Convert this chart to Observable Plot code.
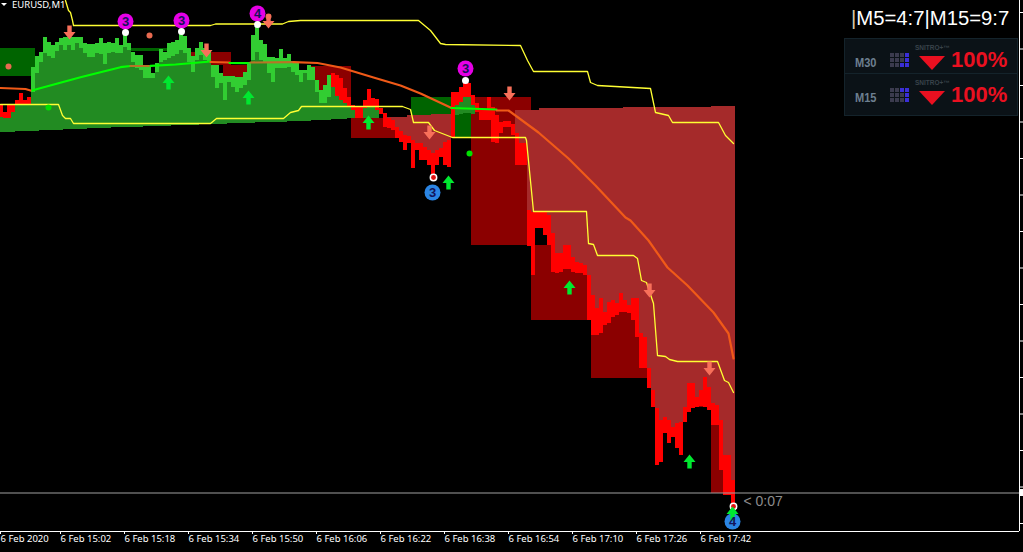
<!DOCTYPE html>
<html><head><meta charset="utf-8">
<style>
html,body{margin:0;padding:0;background:#000;width:1023px;height:552px;overflow:hidden}
#wrap{position:relative;width:1023px;height:552px}
#wrap svg{display:block;position:absolute;left:0;top:0}
.abs{position:absolute}
#sym{left:12px;top:-1px;color:#fff;font:9.5px "Noto Sans",sans-serif;line-height:11px}
#tri{left:1px;top:3px;width:0;height:0;border-left:3px solid transparent;border-right:3px solid transparent;border-top:3px solid #fff}
#head{left:851px;top:7px;width:170px;color:#fff;font:20.3px "Liberation Sans",Arial,sans-serif;white-space:nowrap}
#head b{font-weight:normal;color:#d8c8a8}
#panel{left:844px;top:38px;width:174px;height:78px;background:#0b1217;border:1px solid #14232b;box-sizing:border-box}
.row{position:absolute;left:0;width:172px;height:34px}
.row.one{top:0;border-bottom:1px solid #14232b}
.row.two{top:35px}
.tf{position:absolute;left:10px;top:16px;color:#6d7f90;font:bold 13px "Liberation Sans",sans-serif;transform:scaleX(.85);transform-origin:left}
.brand{position:absolute;left:70px;top:5px;color:#39424a;font:bold 6.5px "Liberation Sans",sans-serif}
.grid{position:absolute;left:45px;top:14px;display:grid;grid-template-columns:repeat(4,4px);grid-auto-rows:4px;gap:1px}
.pct{position:absolute;left:106px;top:8px;color:#ea1020;font:bold 22px "Liberation Sans",sans-serif}
.down{position:absolute;left:74px;top:17px;width:0;height:0;border-left:13px solid transparent;border-right:13px solid transparent;border-top:14px solid #ea1020}
</style>
<script src="https://cdn.jsdelivr.net/npm/d3@7"></script>
<script src="https://cdn.jsdelivr.net/npm/@observablehq/plot@0.6"></script>
</head><body><div id="wrap"></div>
<script>
const firstBar = -15;
const barTop = [
104,112,104,104,100,93,100,97,
67,56,52,37,42,45,42,38,37,37,37,37,37,43,44,44,43,38,43,42,43,38,45,33,43,52,55,55,67,67,73,63,
49,52,43,42,40,33,36,48,56,48,42,48,50,65,65,73,76,76,76,77,77,72,62,35,25,40,44,57,57,58,49,58,54,63,63,70,70,65,67,80,90,85,75,
73,75,78,88,97,105,107,107,100,89,98,99,108,113,118,120,127,131,135,136,140,143,143,147,150,153,150,148,142,140,
92,92,87,83,83,95,103,110,110,97,107,115,122,121,121,124,133,143,143,
210,212,212,212,212,215,233,253,253,245,245,257,262,263,265,275,295,308,298,312,302,300,303,293,300,305,298,298,
333,337,368,390,408,420,417,420,427,423,422,407,383,383,397,390,377,387,403,405,420,455,455,480];
const barBottom = [
117,118,118,112,104,104,104,104,
92,73,62,53,56,58,51,45,50,45,50,43,48,53,57,57,53,54,64,53,52,53,53,47,50,62,68,70,78,78,78,72,
62,60,58,56,54,50,53,62,72,60,55,60,62,77,88,83,100,82,87,92,88,85,80,60,52,60,62,73,82,68,68,68,67,72,75,82,73,80,80,92,103,103,97,
87,96,100,103,106,110,118,118,108,107,107,110,114,127,128,130,138,142,150,143,168,150,160,160,165,178,165,157,165,167,
138,105,102,97,97,105,112,120,120,120,142,143,133,127,127,135,165,165,165,
246,275,228,228,235,245,272,273,272,269,269,272,273,273,275,320,335,335,333,325,323,317,315,312,312,313,320,337,
368,368,388,407,465,462,433,443,437,448,455,422,412,408,407,406,407,410,425,425,470,495,495,503];
const greenBars = [-7, 67];              // first and last minute of the green run
const forestBaseA = [                    // lower edge of the green cloud, minutes -15..80
132,132,132,132,131,131,131,131,131,131,130,130,130,130,130,130,129,129,129,129,129,129,128,128,128,128,128,128,
127,127,127,127,127,127,127,127,126,126,126,126,126,126,126,125,125,125,125,125,125,125,124,124,124,124,124,124,124,
123,123,123,123,123,123,123,122,122,122,122,122,122,122,122,121,121,121,121,121,121,120,120,120,120,120,119,119,119,119,118,118,118,118,118,118,118,118];
const forestBaseB = [115,114,113,113,114]; // minutes 99..103
const brownTopA = [117,117,117,117,117,117,115,115,115,115,115,115,114,114,114,114,114]; // minutes 81..97
const brownTopB = [110,110,110,110,110,110,108,108,108,108,108,108,108,108,108,108,108,108,108,108,108,108,108,108,108,108,108,
107,107,107,107,107,107,107,107,107,107,107,107,107,107,107,107,107,107,107,107,107,107,106,106,106,106,106,106]; // minutes 114..168

// session boxes: first minute, last minute, top level, bottom level
const boxFrom  = [-25, 13,  38,  41,  33,  62,  73,  88, 103, 118, 133, 148, 163];
const boxTo    = [ -7, 28,  42,  46,  33,  72,  87, 102, 117, 132, 147, 162, 168];
const boxTop   = [ 48, 48,  52,  65,  52,  66, 118,  97,  97, 245, 312, 388, 400];
const boxBot   = [ 76, 50.5,65,  77,  56, 108, 138, 137, 245, 320, 378, 407, 493];
const boxColor = ["#006400","#006400","#8b0000","#8b0000","#8b0000","#8b0000","#8b0000","#006400","#8b0000","#8b0000","#8b0000","#8b0000","#8b0000"];

const upperM = [1,1.75,2.25,2.75,3,37.25,38.5,55.25,56.75,59.75,89.25,92.25,94.75,96,114.75,116.5,118,131.5,132.25,134,147.25,148.5,151.75,152.75,164.25,166,168];
const upperY = [0,10,12,20,25,25,23.5,23.5,21,20,20,30,43,44,45,60,71,71,82,85,88,112,115,122,122,135,143];
const lowerM = [-15.25,-0.75,0.25,1,2.25,3,37.25,38.75,55.5,57.25,59.25,60,85.25,87.25,88,91.75,93.25,97.75,116,116.25,118,131.25,131.75,133,134,143,144,145,146.25,148,149,151,152,154,164,165.75,166.75,168];
const lowerY = [104,104,115,118,118,123,123,118,118,112,110,106,106,109,122,122,130,137,137,140,211,211,243,244,255,255,258,280,282,303,355,356,359,361,361,380,382,392];

// moving average, split where it changes colour
const emaSeg = [
 {c:"#f05a18",m:[-15.25,-9,-7.75],y:[87.5,88.5,90]},
 {c:"#00ff00",m:[-7.25,-6.5,4.75,14.75,17.25],y:[90,89,76.7,66.7,65.5]},
 {c:"#b87426",m:[17.25,22.25],y:[65.5,65.5]},
 {c:"#00ff00",m:[22.25,28.5,37.25],y:[65.3,64,61]},
 {c:"#f05a18",m:[37.25,42],y:[61.5,62]},
 {c:"#00ff00",m:[42,46.5],y:[62.5,62.7]},
 {c:"#b87426",m:[47.25,58],y:[62,61.7]},
 {c:"#f05a18",m:[58,64,69.75,78,84.75,89.75,97.25],y:[61.7,62.5,67,77,85,93,107]},
 {c:"#00ff00",m:[97.5,108.75],y:[107.5,109]},
 {c:"#f05a18",m:[108.75,111.75,119.25,126.75,133.5,141,142.25,146.75,151.5,156.5,163,166.75,168],y:[110,110,132,158,185,217,220,240,267,285,312,333,358]}
];

const upM = [26.75,46.75,76.75,96.75,127,157,167.75];
const upY = [82,97,122,182,287,461,513];
const downM = [2,36.25,51.75,92,112,147,162];
const downY = [32,50,21,132,93,290,368];
const dotM = [-13.25,22,51.75,-3.25,102]; const dotY=[66,35,16,107,153];
const dotC = ["#e86a50","#e86a50","#e86a50","#00e000","#00e000"];
const peakM=[16,30,49,101], peakY=[21,20,13,68], peakN=["3","3","4","3"];
const troughM=[92.75,167.75], troughY=[192,521], troughN=["3","4"];
const whiteM=[16,30,49,101], whiteY=[32,31,24,80];
const ringM=[93,168], ringY=[177,506];
const priceLevel=[492.5];
const tickM=[-15,0,16,32,48,64,80,96,112,128,144,160];
const tickL=["6 Feb 2020","6 Feb 15:02","6 Feb 15:18","6 Feb 15:34","6 Feb 15:50","6 Feb 16:06","6 Feb 16:22","6 Feb 16:38","6 Feb 16:54","6 Feb 17:10","6 Feb 17:26","6 Feb 17:42"];
const levelTicks=[12,48.5,85,121.5,158,194.5,231,267.5,304,340.5,377,413.5,450,486.5,523];
const countdown=[{m:170.5,y:501,t:"< 0:07"}];
const priceFlag=[{x1:239.5,x2:240.5,y1:489,y2:496}];
const panelRows=[
 {cls:"one",tf:"M30",cells:"gggbgggbggbb"},
 {cls:"two",tf:"M15",cells:"ggbbgggbgggb"}];

const bars = barTop.map((t,i)=>({m:firstBar+i,t,b:barBottom[i]}));
const isGreen = d => d.m>=greenBars[0] && d.m<=greenBars[1];
const forest = [
  ...forestBaseA.map((v,i)=>({m:-15+i,base:v})),
  ...forestBaseB.map((v,i)=>({m:99+i,base:v}))
].map(d=>({...d,top:barBottom[d.m-firstBar]})).filter(d=>d.top<d.base);
const brown = [
  ...brownTopA.map((v,i)=>({m:81+i,top:v})),
  ...brownTopB.map((v,i)=>({m:114+i,top:v}))
].map(d=>({...d,bot:barTop[d.m-firstBar]})).filter(d=>d.top<d.bot);
const boxes = boxFrom.map((f,i)=>({f,to:boxTo[i],t:boxTop[i],b:boxBot[i],c:boxColor[i]}));
const pts=(m,y)=>m.map((v,i)=>({m:v,y:y[i]}));
const ema = emaSeg.flatMap((s,k)=>s.m.map((v,i)=>({m:v,y:s.y[i],k,c:s.c})));

const arrowUp={draw(c){c.moveTo(0,-7);c.lineTo(6,.5);c.lineTo(2.2,.5);c.lineTo(2.2,7);c.lineTo(-2.2,7);c.lineTo(-2.2,.5);c.lineTo(-6,.5);c.closePath();}};
const arrowDown={draw(c){c.moveTo(0,7);c.lineTo(6,-.5);c.lineTo(2.2,-.5);c.lineTo(2.2,-7);c.lineTo(-2.2,-7);c.lineTo(-2.2,-.5);c.lineTo(-6,-.5);c.closePath();}};

const crisp={shapeRendering:"crispEdges"};
const chart = Plot.plot({
  width:1023,height:552,marginLeft:0,marginRight:4,marginTop:0,marginBottom:21,
  style:{background:"#000",overflow:"visible"},
  x:{domain:[-15.25,239.5],label:null},
  y:{domain:[531,0],label:null},
  marks:[
    Plot.rect(boxes,{x1:d=>d.f-.5,x2:d=>d.to+.5,y1:"t",y2:"b",fill:"c",...crisp}),
    Plot.rect(forest,{x1:d=>d.m-.5,x2:d=>d.m+.5,y1:"top",y2:"base",fill:"#228b22",...crisp}),
    Plot.rect(brown,{x1:d=>d.m-.5,x2:d=>d.m+.5,y1:"top",y2:"bot",fill:"#a52a2a",...crisp}),
    Plot.rect(bars,{x1:d=>d.m-.5,x2:d=>d.m+.5,y1:"t",y2:"b",fill:d=>isGreen(d)?"#32cd32":"#ff0000",...crisp}),
    Plot.ruleY(priceLevel,{stroke:"#a0a0a0",strokeWidth:1}),
    Plot.rect(priceFlag,{x1:"x1",x2:"x2",y1:"y1",y2:"y2",fill:"#fff",...crisp}),
    Plot.line(pts(upperM,upperY),{x:"m",y:"y",stroke:"#ffff33",strokeWidth:1.3}),
    Plot.line(pts(lowerM,lowerY),{x:"m",y:"y",stroke:"#ffff33",strokeWidth:1.3}),
    Plot.line(ema,{x:"m",y:"y",z:"k",stroke:"c",strokeWidth:2.2}),
    Plot.dot(pts(dotM,dotY),{x:"m",y:"y",r:3,fill:(d,i)=>dotC[i]}),
    Plot.dot(pts(peakM,peakY),{x:"m",y:"y",r:8,fill:"#e600e6"}),
    Plot.dot(pts(troughM,troughY),{x:"m",y:"y",r:8,fill:"#2b85e4"}),
    Plot.dot(pts(whiteM,whiteY),{x:"m",y:"y",r:3.5,fill:"#fff"}),
    Plot.dot(pts(ringM,ringY),{x:"m",y:"y",r:3.2,fill:"#e01010",stroke:"#fff",strokeWidth:1.5}),
    Plot.dot(pts(downM,downY),{x:"m",y:"y",fill:"#f8705a",symbol:arrowDown}),
    Plot.dot(pts(upM,upY),{x:"m",y:"y",fill:"#00e830",symbol:arrowUp}),
    Plot.text(pts(peakM,peakY),{x:"m",y:"y",text:(d,i)=>peakN[i],fill:"#14145a",fontSize:13,fontWeight:"bold",fontFamily:"Liberation Sans"}),
    Plot.text(pts(troughM,troughY),{x:"m",y:"y",text:(d,i)=>troughN[i],fill:"#14145a",fontSize:13,fontWeight:"bold",fontFamily:"Liberation Sans"}),
    Plot.text(countdown,{x:"m",y:"y",text:"t",fill:"#8c8c8c",fontSize:14,textAnchor:"start",fontFamily:"Liberation Sans"}),
    Plot.ruleY([531],{stroke:"#fff"}),
    Plot.ruleX([239.5],{stroke:"#fff",y1:0,y2:531}),
    Plot.axisY({anchor:"right",ticks:levelTicks,tickSize:4,tickFormat:()=>"",label:null,stroke:"#fff",color:"#fff"}),
    Plot.axisX({anchor:"bottom",ticks:tickM,tickFormat:(d)=>tickL[tickM.indexOf(d)],tickSize:3,tickPadding:1,textAnchor:"start",dx:-1,label:null,color:"#fff",fontSize:9.5,fontFamily:"Noto Sans"})
  ]
});
const wrap=document.getElementById("wrap");
wrap.appendChild(chart);

function el(parent,cls,text){const e=document.createElement("div");e.className=cls;if(text)e.textContent=text;parent.appendChild(e);return e;}
el(wrap,"abs","").id="tri";
const sym=el(wrap,"abs","EURUSD,M1");sym.id="sym";
const head=el(wrap,"abs");head.id="head";head.innerHTML="<b>|</b>M5=4:7|M15=9:7";
const panel=el(wrap,"abs");panel.id="panel";
for(const r of panelRows){
  const row=el(panel,"row "+r.cls);
  el(row,"tf",r.tf);el(row,"brand","SNITRO+™");
  const g=el(row,"grid");
  for(const c of r.cells){const s=el(g,"");s.style.background=c==="b"?"#3a2ed8":"#3b3b4e";}
  el(row,"down");el(row,"pct","100%");
}
</script></body></html>
